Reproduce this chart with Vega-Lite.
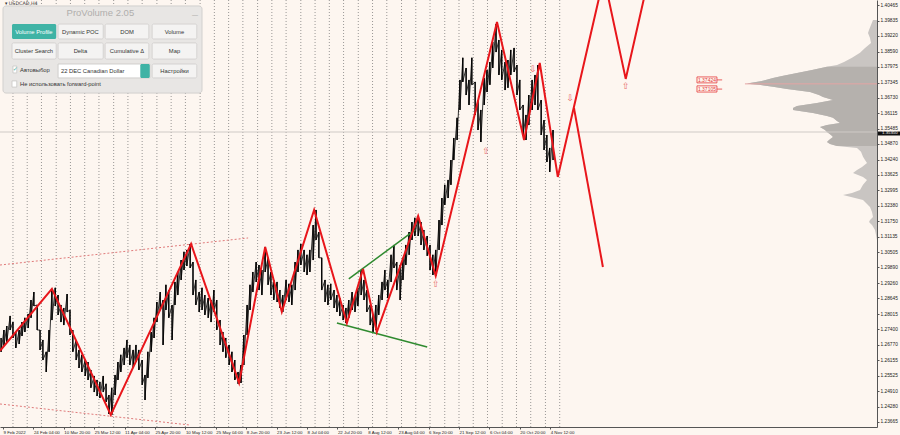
{
"$schema":"https://vega.github.io/schema/vega-lite/v6.json",
"width":877,"height":427,
"autosize":{"type":"none"},
"padding":{"left":0,"top":0,"right":23,"bottom":8},
"background":"#fdf6f0",
"config":{"view":{"stroke":null}},
"resolve":{"scale":{"x":"independent","y":"independent"}},
"layer":[
{"data":{"name":"prof","values":[
{"p":1.3986,"v":4},{"p":1.3966,"v":6},{"p":1.3946,"v":8},{"p":1.3934,"v":9},{"p":1.3914,"v":7},{"p":1.3894,"v":6},{"p":1.3874,"v":12},{"p":1.3854,"v":17},{"p":1.3834,"v":25},{"p":1.3817,"v":33},{"p":1.3805,"v":40},
{"p":1.3798,"v":50,"va":true},{"p":1.3785,"v":65,"va":true},{"p":1.3773,"v":80,"va":true},{"p":1.3761,"v":95,"va":true},{"p":1.3753,"v":104,"va":true},{"p":1.3741,"v":115,"va":true},{"p":1.3733,"v":127,"va":true},{"p":1.3729,"v":130,"va":true},{"p":1.3725,"v":118,"va":true},{"p":1.3717,"v":104,"va":true},{"p":1.3708,"v":90,"va":true},{"p":1.3696,"v":67,"va":true},{"p":1.3684,"v":58,"va":true},{"p":1.3676,"v":54,"va":true},{"p":1.3664,"v":44,"va":true},{"p":1.3652,"v":60,"va":true},{"p":1.364,"v":80,"va":true},{"p":1.3632,"v":84,"va":true},{"p":1.3624,"v":84,"va":true},{"p":1.3612,"v":64,"va":true},{"p":1.36,"v":50,"va":true},{"p":1.3592,"v":44,"va":true},{"p":1.3579,"v":40,"va":true},{"p":1.3571,"v":37,"va":true},{"p":1.3563,"v":50,"va":true},{"p":1.3555,"v":57,"va":true},{"p":1.3543,"v":52,"va":true},{"p":1.3535,"v":50,"va":true},{"p":1.3523,"v":46,"va":true},{"p":1.3515,"v":44,"va":true},{"p":1.3503,"v":48,"va":true},{"p":1.3495,"v":50,"va":true},{"p":1.3487,"v":47,"va":true},{"p":1.3479,"v":40,"va":true},
{"p":1.3471,"v":20},{"p":1.3455,"v":16},{"p":1.3435,"v":14},{"p":1.3422,"v":12},{"p":1.341,"v":10},{"p":1.3394,"v":15},{"p":1.3382,"v":20},{"p":1.337,"v":24},{"p":1.3354,"v":14},{"p":1.3342,"v":10},{"p":1.3322,"v":14},{"p":1.3301,"v":17},{"p":1.3289,"v":25},{"p":1.3281,"v":34},{"p":1.3269,"v":22},{"p":1.3261,"v":14},{"p":1.3245,"v":10},{"p":1.3233,"v":7},{"p":1.3213,"v":5},{"p":1.3193,"v":4},{"p":1.318,"v":7},{"p":1.3172,"v":8},{"p":1.316,"v":5},{"p":1.314,"v":2},{"p":1.31,"v":0}
]},
 "mark":{"type":"area","orient":"horizontal","color":"#c9c5c2"},
 "encoding":{"y":{"field":"p","type":"quantitative","scale":{"domain":[1.23462,1.4067],"nice":false,"zero":false},"axis":null},
 "x":{"field":"v","type":"quantitative","scale":{"domain":[0,877],"reverse":true,"nice":false,"zero":false},"axis":null}}},
{"data":{"name":"prof"},"transform":[{"filter":"datum.va"}],
 "mark":{"type":"area","orient":"horizontal","color":"#b5b1ad"},
 "encoding":{"y":{"field":"p","type":"quantitative","scale":{"domain":[1.23462,1.4067],"nice":false,"zero":false},"axis":null},
 "x":{"field":"v","type":"quantitative","scale":{"domain":[0,877],"reverse":true,"nice":false,"zero":false},"axis":null}}},
{"data":{"values":[{"b":21},{"b":51},{"b":81},{"b":112},{"b":142},{"b":172},{"b":202},{"b":233},{"b":263},{"b":293},{"b":324},{"b":354},{"b":384},{"b":415},{"b":445},{"b":475},{"b":505},{"b":536},{"b":566},{"b":596},{"b":627},{"b":657},{"b":687},{"b":717},{"b":748},{"b":778},{"b":808},{"b":839},{"b":869},{"b":899},{"b":930},{"b":960},{"b":990},{"b":1020},{"b":1051},{"b":1081},{"b":1111},{"b":1142},{"b":1172}]},
 "mark":{"type":"rule","color":"#6e6e6e","strokeWidth":0.7,"strokeDash":[1,2]},
 "encoding":{"x":{"field":"b","type":"quantitative","scale":{"domain":[-6.3,1840],"nice":false,"zero":false},"axis":null},
 "y":{"datum":1.4067,"type":"quantitative","scale":{"domain":[1.23462,1.4067],"nice":false,"zero":false},"axis":null},
 "y2":{"datum":1.23462}}},
{"data":{"values":[{"b":-6.3,"p":1.2999,"g":1},{"b":516,"p":1.3108,"g":1},{"b":-6.3,"p":1.2439,"g":2},{"b":394,"p":1.2354,"g":2}]},
 "mark":{"type":"line","color":"#e07a7a","strokeWidth":1,"strokeDash":[2,2],"clip":true},
 "encoding":{"x":{"field":"b","type":"quantitative","scale":{"domain":[-6.3,1840],"nice":false,"zero":false},"axis":null},
 "y":{"field":"p","type":"quantitative","scale":{"domain":[1.23462,1.4067],"nice":false,"zero":false},"axis":null},
 "detail":{"field":"g"}}},
{"data":{"values":[{"b":-6.3,"b2":1840,"p":1.3535}]},
 "mark":{"type":"rule","color":"#cfcac6","strokeWidth":1},
 "encoding":{"x":{"field":"b","type":"quantitative","scale":{"domain":[-6.3,1840],"nice":false,"zero":false},"axis":null},"x2":{"field":"b2"},
 "y":{"field":"p","type":"quantitative","scale":{"domain":[1.23462,1.4067],"nice":false,"zero":false},"axis":null}}},
{"data":{"values":[{"b":1562,"b2":1840,"p":1.3729}]},
 "mark":{"type":"rule","color":"#e4a4a4","strokeWidth":1},
 "encoding":{"x":{"field":"b","type":"quantitative","scale":{"domain":[-6.3,1840],"nice":false,"zero":false},"axis":null},"x2":{"field":"b2"},
 "y":{"field":"p","type":"quantitative","scale":{"domain":[1.23462,1.4067],"nice":false,"zero":false},"axis":null}}},
{"data":{"name":"bars","values":[
{"b":-4,"hi":1.2705,"lo":1.2649},{"b":2,"hi":1.2737,"lo":1.2673},{"b":8,"hi":1.2753,"lo":1.2689},{"b":15,"hi":1.2794,"lo":1.2737},{"b":21,"hi":1.2769,"lo":1.2705},{"b":27,"hi":1.2729,"lo":1.2665},{"b":34,"hi":1.2737,"lo":1.2681},{"b":40,"hi":1.2769,"lo":1.2713},{"b":46,"hi":1.2786,"lo":1.2729},{"b":53,"hi":1.2802,"lo":1.2745},
{"b":59,"hi":1.2858,"lo":1.2786},{"b":65,"hi":1.289,"lo":1.2834},{"b":72,"hi":1.2838,"lo":1.2737},{"b":78,"hi":1.2737,"lo":1.2657},{"b":84,"hi":1.2697,"lo":1.2616},{"b":91,"hi":1.2649,"lo":1.2568},{"b":97,"hi":1.2737,"lo":1.2649},{"b":103,"hi":1.2898,"lo":1.2777},{"b":110,"hi":1.2907,"lo":1.2834},{"b":116,"hi":1.2878,"lo":1.2798},
{"b":122,"hi":1.2838,"lo":1.2769},{"b":128,"hi":1.2826,"lo":1.2757},{"b":135,"hi":1.2882,"lo":1.281},{"b":141,"hi":1.2818,"lo":1.2717},{"b":147,"hi":1.2737,"lo":1.2649},{"b":154,"hi":1.2697,"lo":1.2616},{"b":160,"hi":1.2657,"lo":1.2584},{"b":166,"hi":1.2637,"lo":1.2568},{"b":173,"hi":1.2616,"lo":1.2552},{"b":179,"hi":1.2608,"lo":1.2536},
{"b":185,"hi":1.2576,"lo":1.2504},{"b":192,"hi":1.2552,"lo":1.2487},{"b":198,"hi":1.2536,"lo":1.2471},{"b":204,"hi":1.2528,"lo":1.2463},{"b":211,"hi":1.2552,"lo":1.2487},{"b":217,"hi":1.252,"lo":1.2447},{"b":223,"hi":1.2475,"lo":1.2399},{"b":229,"hi":1.2504,"lo":1.2395},{"b":236,"hi":1.2556,"lo":1.2475},{"b":242,"hi":1.2608,"lo":1.2536},
{"b":248,"hi":1.2637,"lo":1.2568},{"b":255,"hi":1.2665,"lo":1.2596},{"b":261,"hi":1.2697,"lo":1.2625},{"b":267,"hi":1.2677,"lo":1.2596},{"b":274,"hi":1.2657,"lo":1.2584},{"b":280,"hi":1.2677,"lo":1.2608},{"b":286,"hi":1.2657,"lo":1.2576},{"b":293,"hi":1.2616,"lo":1.2516},{"b":299,"hi":1.2556,"lo":1.2455},{"b":305,"hi":1.2649,"lo":1.2544},
{"b":312,"hi":1.2729,"lo":1.2649},{"b":318,"hi":1.2786,"lo":1.2705},{"b":324,"hi":1.285,"lo":1.2769},{"b":331,"hi":1.289,"lo":1.2818},{"b":337,"hi":1.2858,"lo":1.2677},{"b":343,"hi":1.2919,"lo":1.2818},{"b":349,"hi":1.2898,"lo":1.2786},{"b":356,"hi":1.2838,"lo":1.2697},{"b":362,"hi":1.2931,"lo":1.2838},{"b":368,"hi":1.2971,"lo":1.2878},
{"b":375,"hi":1.3019,"lo":1.2939},{"b":381,"hi":1.3052,"lo":1.2979},{"b":387,"hi":1.306,"lo":1.2995},{"b":394,"hi":1.3084,"lo":1.2987},{"b":400,"hi":1.3011,"lo":1.2878},{"b":406,"hi":1.2939,"lo":1.2838},{"b":413,"hi":1.289,"lo":1.281},{"b":419,"hi":1.2907,"lo":1.2818},{"b":425,"hi":1.2878,"lo":1.2798},{"b":432,"hi":1.2866,"lo":1.2786},
{"b":438,"hi":1.2858,"lo":1.2769},{"b":444,"hi":1.2898,"lo":1.281},{"b":450,"hi":1.2858,"lo":1.2737},{"b":457,"hi":1.2777,"lo":1.2677},{"b":463,"hi":1.2729,"lo":1.2649},{"b":469,"hi":1.2705,"lo":1.2625},{"b":476,"hi":1.2677,"lo":1.2596},{"b":482,"hi":1.2649,"lo":1.2568},{"b":488,"hi":1.2616,"lo":1.2536},{"b":495,"hi":1.2568,"lo":1.252},
{"b":501,"hi":1.2596,"lo":1.2524},{"b":507,"hi":1.2717,"lo":1.2596},{"b":514,"hi":1.2838,"lo":1.2717},{"b":520,"hi":1.2919,"lo":1.2818},{"b":526,"hi":1.2971,"lo":1.289},{"b":533,"hi":1.3011,"lo":1.2931},{"b":539,"hi":1.2999,"lo":1.2898},{"b":545,"hi":1.2979,"lo":1.2878},{"b":552,"hi":1.3072,"lo":1.2971},{"b":558,"hi":1.3028,"lo":1.2919},
{"b":564,"hi":1.2971,"lo":1.2878},{"b":570,"hi":1.2939,"lo":1.2858},{"b":577,"hi":1.2931,"lo":1.285},{"b":583,"hi":1.2898,"lo":1.2826},{"b":589,"hi":1.2878,"lo":1.281},{"b":596,"hi":1.2939,"lo":1.2858},{"b":602,"hi":1.2923,"lo":1.285},{"b":608,"hi":1.2919,"lo":1.2838},{"b":615,"hi":1.3011,"lo":1.2898},{"b":621,"hi":1.306,"lo":1.2971},
{"b":627,"hi":1.3084,"lo":1.2999},{"b":634,"hi":1.306,"lo":1.2971},{"b":640,"hi":1.304,"lo":1.2959},{"b":646,"hi":1.306,"lo":1.2971},{"b":653,"hi":1.316,"lo":1.3019},{"b":659,"hi":1.3221,"lo":1.31},{"b":665,"hi":1.3132,"lo":1.3028},{"b":671,"hi":1.3028,"lo":1.2898},{"b":678,"hi":1.2939,"lo":1.285},{"b":684,"hi":1.2919,"lo":1.2838},
{"b":690,"hi":1.2923,"lo":1.2858},{"b":697,"hi":1.2898,"lo":1.2826},{"b":703,"hi":1.2878,"lo":1.281},{"b":709,"hi":1.2866,"lo":1.2794},{"b":716,"hi":1.2838,"lo":1.2777},{"b":722,"hi":1.2826,"lo":1.2765},{"b":728,"hi":1.2858,"lo":1.2786},{"b":735,"hi":1.289,"lo":1.2818},{"b":741,"hi":1.2874,"lo":1.281},{"b":747,"hi":1.2907,"lo":1.2834},
{"b":754,"hi":1.2979,"lo":1.2878},{"b":760,"hi":1.2939,"lo":1.2858},{"b":766,"hi":1.2898,"lo":1.281},{"b":773,"hi":1.2838,"lo":1.2757},{"b":779,"hi":1.2798,"lo":1.2729},{"b":785,"hi":1.2838,"lo":1.2737},{"b":791,"hi":1.2878,"lo":1.2798},{"b":798,"hi":1.2931,"lo":1.2858},{"b":804,"hi":1.2979,"lo":1.2898},{"b":810,"hi":1.2939,"lo":1.2866},
{"b":817,"hi":1.304,"lo":1.2931},{"b":823,"hi":1.308,"lo":1.2987},{"b":829,"hi":1.3011,"lo":1.2898},{"b":836,"hi":1.2999,"lo":1.2858},{"b":842,"hi":1.3028,"lo":1.2939},{"b":848,"hi":1.308,"lo":1.2999},{"b":855,"hi":1.3132,"lo":1.304},{"b":861,"hi":1.3172,"lo":1.31},{"b":867,"hi":1.3189,"lo":1.3116},{"b":874,"hi":1.3197,"lo":1.3116},
{"b":880,"hi":1.3172,"lo":1.308},{"b":886,"hi":1.314,"lo":1.306},{"b":893,"hi":1.3116,"lo":1.3036},{"b":899,"hi":1.308,"lo":1.2979},{"b":905,"hi":1.304,"lo":1.2959},{"b":911,"hi":1.306,"lo":1.2955},{"b":918,"hi":1.318,"lo":1.306},{"b":924,"hi":1.3269,"lo":1.316},{"b":930,"hi":1.3322,"lo":1.3241},{"b":937,"hi":1.3342,"lo":1.3269},
{"b":943,"hi":1.3422,"lo":1.3322},{"b":949,"hi":1.3511,"lo":1.3422},{"b":956,"hi":1.3592,"lo":1.3503},{"b":962,"hi":1.3745,"lo":1.3624},{"b":968,"hi":1.3834,"lo":1.3737},{"b":975,"hi":1.3793,"lo":1.3684},{"b":981,"hi":1.3745,"lo":1.3644},{"b":987,"hi":1.3834,"lo":1.3725},{"b":994,"hi":1.3737,"lo":1.3604},{"b":1000,"hi":1.3664,"lo":1.3543},
{"b":1006,"hi":1.3624,"lo":1.3495},{"b":1013,"hi":1.3753,"lo":1.3644},{"b":1019,"hi":1.3785,"lo":1.3696},{"b":1025,"hi":1.3817,"lo":1.3725},{"b":1031,"hi":1.3898,"lo":1.3793},{"b":1038,"hi":1.397,"lo":1.3857},{"b":1044,"hi":1.3906,"lo":1.3765},{"b":1050,"hi":1.3866,"lo":1.3745},{"b":1057,"hi":1.3817,"lo":1.3704},{"b":1063,"hi":1.3825,"lo":1.3713},
{"b":1069,"hi":1.3866,"lo":1.3765},{"b":1076,"hi":1.3874,"lo":1.3777},{"b":1082,"hi":1.3805,"lo":1.3684},{"b":1088,"hi":1.3745,"lo":1.3624},{"b":1095,"hi":1.3644,"lo":1.3523},{"b":1101,"hi":1.3604,"lo":1.3503},{"b":1107,"hi":1.3684,"lo":1.3563},{"b":1114,"hi":1.3745,"lo":1.3624},{"b":1120,"hi":1.3765,"lo":1.3644},{"b":1126,"hi":1.3805,"lo":1.3624},
{"b":1133,"hi":1.3664,"lo":1.3523},{"b":1139,"hi":1.3583,"lo":1.3463},{"b":1145,"hi":1.3523,"lo":1.3414},{"b":1151,"hi":1.3471,"lo":1.3374},{"b":1158,"hi":1.3543,"lo":1.3422}
]},
 "mark":{"type":"rule","color":"#000000","strokeWidth":1.3},
 "encoding":{"x":{"field":"b","type":"quantitative","scale":{"domain":[-6.3,1840],"nice":false,"zero":false},
   "axis":{"orient":"bottom","values":[0,64,128,192,256,320,384,448,512,576,640,704,768,832,896,960,1024,1088,1152],
   "labelExpr":"['9 Feb 2022','24 Feb 04:00','10 Mar 20:00','25 Mar 12:00','11 Apr 04:00','25 Apr 20:00','10 May 12:00','25 May 04:00','8 Jun 20:00','23 Jun 12:00','8 Jul 04:00','22 Jul 20:00','8 Aug 12:00','23 Aug 04:00','6 Sep 20:00','21 Sep 12:00','6 Oct 04:00','20 Oct 20:00','4 Nov 12:00'][round(datum.value/64)]",
   "labelAlign":"left","labelBaseline":"top","labelPadding":1,"tickSize":2,"labelFontSize":4.4,"labelFont":"Liberation Sans","labelColor":"#222222","domainColor":"#555555","tickColor":"#555555","labelOverlap":false,"labelFlush":false,"grid":false,"title":null}},
 "y":{"field":"hi","type":"quantitative","scale":{"domain":[1.23462,1.4067],"nice":false,"zero":false},
   "axis":{"orient":"right","values":[1.40465,1.39835,1.3922,1.3859,1.37975,1.37345,1.3673,1.36115,1.35485,1.3487,1.3424,1.33625,1.32995,1.3238,1.3175,1.31135,1.30505,1.2989,1.2926,1.28645,1.28015,1.274,1.2677,1.26155,1.25525,1.2491,1.2428,1.23665],
   "format":".5f","labelFontSize":4.8,"labelFont":"Liberation Sans","labelPadding":1,"tickSize":2,"labelColor":"#222222","domainColor":"#555555","tickColor":"#555555","labelOverlap":false,"labelFlush":false,"grid":false,"title":null}},
 "y2":{"field":"lo"}}},
{"data":{"name":"bars"},
 "transform":[{"fold":["hi","lo"],"as":["k","val"]}],
 "mark":{"type":"line","color":"#000000","strokeWidth":0.8},
 "encoding":{"x":{"field":"b","type":"quantitative","scale":{"domain":[-6.3,1840],"nice":false,"zero":false},"axis":null},
 "y":{"field":"val","type":"quantitative","scale":{"domain":[1.23462,1.4067],"nice":false,"zero":false},"axis":null},
 "order":[{"field":"b","type":"quantitative"},{"field":"k","type":"nominal"}]}},
{"data":{"values":[{"b":728,"p":1.2943,"g":1},{"b":867,"p":1.314,"g":1},{"b":703,"p":1.2765,"g":2},{"b":893,"p":1.2669,"g":2}]},
 "mark":{"type":"line","color":"#2f8a2f","strokeWidth":1.5},
 "encoding":{"x":{"field":"b","type":"quantitative","scale":{"domain":[-6.3,1840],"nice":false,"zero":false},"axis":null},
 "y":{"field":"p","type":"quantitative","scale":{"domain":[1.23462,1.4067],"nice":false,"zero":false},"axis":null},
 "detail":{"field":"g"}}},
{"data":{"values":[{"b":-6.3,"p":1.2653,"g":1},{"b":103,"p":1.2903,"g":1},{"b":227,"p":1.2395,"g":1},{"b":396,"p":1.3084,"g":1},{"b":497,"p":1.2524,"g":1},{"b":552,"p":1.3072,"g":1},{"b":587,"p":1.281,"g":1},{"b":655,"p":1.3221,"g":1},{"b":724,"p":1.2765,"g":1},{"b":758,"p":1.2983,"g":1},{"b":787,"p":1.2729,"g":1},{"b":874,"p":1.3197,"g":1},{"b":911,"p":1.2955,"g":1},{"b":1040,"p":1.3978,"g":1},{"b":1097,"p":1.3503,"g":1},{"b":1130,"p":1.3813,"g":1},{"b":1168,"p":1.3354,"g":1},{"b":1265,"p":1.416,"g":1},{"b":1311,"p":1.3749,"g":1},{"b":1362,"p":1.418,"g":1},{"b":1202,"p":1.3632,"g":2},{"b":1263,"p":1.2991,"g":2}]},
 "mark":{"type":"line","color":"#e8161b","strokeWidth":2,"clip":true},
 "encoding":{"x":{"field":"b","type":"quantitative","scale":{"domain":[-6.3,1840],"nice":false,"zero":false},"axis":null},
 "y":{"field":"p","type":"quantitative","scale":{"domain":[1.23462,1.4067],"nice":false,"zero":false},"axis":null},
 "detail":{"field":"g"}}},
{"data":{"values":[{"b":911,"p":1.2923,"s":"⇧"},{"b":1017,"p":1.3459,"s":"⇧"},{"b":1116,"p":1.3789,"s":"⇩"},{"b":1194,"p":1.3672,"s":"⇩"},{"b":1311,"p":1.372,"s":"⇧"}]},
 "mark":{"type":"text","color":"#e86a6a","fontSize":9,"font":"DejaVu Sans"},
 "encoding":{"x":{"field":"b","type":"quantitative","scale":{"domain":[-6.3,1840],"nice":false,"zero":false},"axis":null},
 "y":{"field":"p","type":"quantitative","scale":{"domain":[1.23462,1.4067],"nice":false,"zero":false},"axis":null},
 "text":{"field":"s"}}},
{"data":{"values":[{"b":1461,"b2":1503,"p":1.3757,"p2":1.3733},{"b":1461,"b2":1503,"p":1.3721,"p2":1.3696}]},
 "mark":{"type":"rect","fill":"#fdf6f0","stroke":"#e43a3a","strokeWidth":0.8},
 "encoding":{"x":{"field":"b","type":"quantitative","scale":{"domain":[-6.3,1840],"nice":false,"zero":false},"axis":null},"x2":{"field":"b2"},
 "y":{"field":"p","type":"quantitative","scale":{"domain":[1.23462,1.4067],"nice":false,"zero":false},"axis":null},"y2":{"field":"p2"}}},
{"data":{"values":[{"b":1482,"p":1.3745,"t":"1.37424"},{"b":1482,"p":1.3708,"t":"1.37105"}]},
 "mark":{"type":"text","color":"#e43a3a","fontSize":5,"font":"Liberation Sans"},
 "encoding":{"x":{"field":"b","type":"quantitative","scale":{"domain":[-6.3,1840],"nice":false,"zero":false},"axis":null},
 "y":{"field":"p","type":"quantitative","scale":{"domain":[1.23462,1.4067],"nice":false,"zero":false},"axis":null},
 "text":{"field":"t"}}},
{"data":{"values":[{"b":1503,"b2":1514,"p":1.3745},{"b":1503,"b2":1514,"p":1.3708}]},
 "mark":{"type":"rule","color":"#e43a3a","strokeWidth":0.8},
 "encoding":{"x":{"field":"b","type":"quantitative","scale":{"domain":[-6.3,1840],"nice":false,"zero":false},"axis":null},"x2":{"field":"b2"},
 "y":{"field":"p","type":"quantitative","scale":{"domain":[1.23462,1.4067],"nice":false,"zero":false},"axis":null}}},
{"data":{"values":[{"b":1842,"b2":1893,"p":1.3537,"p2":1.3521}]},
 "mark":{"type":"rect","fill":"#111111"},
 "encoding":{"x":{"field":"b","type":"quantitative","scale":{"domain":[-6.3,1840],"nice":false,"zero":false},"axis":null},"x2":{"field":"b2"},
 "y":{"field":"p","type":"quantitative","scale":{"domain":[1.23462,1.4067],"nice":false,"zero":false},"axis":null},"y2":{"field":"p2"}}},
{"data":{"values":[{"b":1867,"p":1.3529,"t":"1.35350"}]},
 "mark":{"type":"text","color":"#ffffff","fontSize":4.3,"font":"Liberation Sans"},
 "encoding":{"x":{"field":"b","type":"quantitative","scale":{"domain":[-6.3,1840],"nice":false,"zero":false},"axis":null},
 "y":{"field":"p","type":"quantitative","scale":{"domain":[1.23462,1.4067],"nice":false,"zero":false},"axis":null},
 "text":{"field":"t"}}},
{"data":{"values":[{"b":0,"b2":419,"p":1.4043,"p2":1.3692}]},
 "mark":{"type":"rect","fill":"#e8e6e4","stroke":"#d2d0ce","strokeWidth":1,"cornerRadius":3},
 "encoding":{"x":{"field":"b","type":"quantitative","scale":{"domain":[-6.3,1840],"nice":false,"zero":false},"axis":null},"x2":{"field":"b2"},
 "y":{"field":"p","type":"quantitative","scale":{"domain":[1.23462,1.4067],"nice":false,"zero":false},"axis":null},"y2":{"field":"p2"}}},
{"data":{"values":[{"b":116,"b2":211,"p":1.397,"p2":1.391},{"b":215,"b2":307,"p":1.397,"p2":1.391},{"b":314,"b2":408,"p":1.397,"p2":1.391},{"b":19,"b2":112,"p":1.3894,"p2":1.3829},{"b":116,"b2":211,"p":1.3894,"p2":1.3829},{"b":215,"b2":307,"p":1.3894,"p2":1.3829},{"b":314,"b2":408,"p":1.3894,"p2":1.3829},{"b":314,"b2":408,"p":1.3809,"p2":1.3753}]},
 "mark":{"type":"rect","fill":"#f4f3f2","stroke":"#cfcdcb","strokeWidth":0.8,"cornerRadius":1.5},
 "encoding":{"x":{"field":"b","type":"quantitative","scale":{"domain":[-6.3,1840],"nice":false,"zero":false},"axis":null},"x2":{"field":"b2"},
 "y":{"field":"p","type":"quantitative","scale":{"domain":[1.23462,1.4067],"nice":false,"zero":false},"axis":null},"y2":{"field":"p2"}}},
{"data":{"values":[{"b":116,"b2":309,"p":1.3809,"p2":1.3753},{"b":21,"b2":29,"p":1.3801,"p2":1.3773},{"b":19,"b2":29,"p":1.3741,"p2":1.3716}]},
 "mark":{"type":"rect","fill":"#ffffff","stroke":"#c8c6c4","strokeWidth":0.8},
 "encoding":{"x":{"field":"b","type":"quantitative","scale":{"domain":[-6.3,1840],"nice":false,"zero":false},"axis":null},"x2":{"field":"b2"},
 "y":{"field":"p","type":"quantitative","scale":{"domain":[1.23462,1.4067],"nice":false,"zero":false},"axis":null},"y2":{"field":"p2"}}},
{"data":{"values":[{"b":19,"b2":112,"p":1.397,"p2":1.391},{"b":289,"b2":309,"p":1.3809,"p2":1.3753}]},
 "mark":{"type":"rect","fill":"#3fb3a5","cornerRadius":1.5},
 "encoding":{"x":{"field":"b","type":"quantitative","scale":{"domain":[-6.3,1840],"nice":false,"zero":false},"axis":null},"x2":{"field":"b2"},
 "y":{"field":"p","type":"quantitative","scale":{"domain":[1.23462,1.4067],"nice":false,"zero":false},"axis":null},"y2":{"field":"p2"}}},
{"data":{"values":[{"b":205,"p":1.4013,"t":"ProVolume 2.05"}]},
 "mark":{"type":"text","color":"#b0aeac","fontSize":9.5,"font":"Liberation Sans"},
 "encoding":{"x":{"field":"b","type":"quantitative","scale":{"domain":[-6.3,1840],"nice":false,"zero":false},"axis":null},
 "y":{"field":"p","type":"quantitative","scale":{"domain":[1.23462,1.4067],"nice":false,"zero":false},"axis":null},
 "text":{"field":"t"}}},
{"data":{"values":[{"b":404,"p":1.4005,"t":"—"}]},
 "mark":{"type":"text","color":"#9a9896","fontSize":6,"font":"Liberation Sans"},
 "encoding":{"x":{"field":"b","type":"quantitative","scale":{"domain":[-6.3,1840],"nice":false,"zero":false},"axis":null},
 "y":{"field":"p","type":"quantitative","scale":{"domain":[1.23462,1.4067],"nice":false,"zero":false},"axis":null},
 "text":{"field":"t"}}},
{"data":{"values":[{"b":163,"p":1.3938,"t":"Dynamic POC"},{"b":261,"p":1.3938,"t":"DOM"},{"b":361,"p":1.3938,"t":"Volume"},{"b":65,"p":1.3861,"t":"Cluster Search"},{"b":163,"p":1.3861,"t":"Delta"},{"b":261,"p":1.3861,"t":"Cumulative Δ"},{"b":361,"p":1.3861,"t":"Map"},{"b":361,"p":1.3781,"t":"Настройки"}]},
 "mark":{"type":"text","color":"#333333","fontSize":5.8,"font":"Liberation Sans"},
 "encoding":{"x":{"field":"b","type":"quantitative","scale":{"domain":[-6.3,1840],"nice":false,"zero":false},"axis":null},
 "y":{"field":"p","type":"quantitative","scale":{"domain":[1.23462,1.4067],"nice":false,"zero":false},"axis":null},
 "text":{"field":"t"}}},
{"data":{"values":[{"b":65,"p":1.3938,"t":"Volume Profile"}]},
 "mark":{"type":"text","color":"#ffffff","fontSize":5.8,"font":"Liberation Sans"},
 "encoding":{"x":{"field":"b","type":"quantitative","scale":{"domain":[-6.3,1840],"nice":false,"zero":false},"axis":null},
 "y":{"field":"p","type":"quantitative","scale":{"domain":[1.23462,1.4067],"nice":false,"zero":false},"axis":null},
 "text":{"field":"t"}}},
{"data":{"values":[{"b":36,"p":1.3785,"t":"Автовыбор"},{"b":122,"p":1.3781,"t":"22 DEC Canadian Dollar"},{"b":36,"p":1.3729,"t":"Не использовать forward-point"}]},
 "mark":{"type":"text","color":"#333333","fontSize":5.8,"font":"Liberation Sans","align":"left"},
 "encoding":{"x":{"field":"b","type":"quantitative","scale":{"domain":[-6.3,1840],"nice":false,"zero":false},"axis":null},
 "y":{"field":"p","type":"quantitative","scale":{"domain":[1.23462,1.4067],"nice":false,"zero":false},"axis":null},
 "text":{"field":"t"}}},
{"data":{"values":[{"b":26,"p":1.379,"t":"✓"},{"b":299,"p":1.3781,"t":"⇕"}]},
 "mark":{"type":"text","color":"#3fb3a5","fontSize":6,"font":"DejaVu Sans"},
 "encoding":{"x":{"field":"b","type":"quantitative","scale":{"domain":[-6.3,1840],"nice":false,"zero":false},"axis":null},
 "y":{"field":"p","type":"quantitative","scale":{"domain":[1.23462,1.4067],"nice":false,"zero":false},"axis":null},
 "text":{"field":"t"}}},
{"data":{"values":[{"b":4,"p":1.4051,"t":"▾ USDCAD,H4"}]},
 "mark":{"type":"text","color":"#333333","fontSize":4.8,"font":"DejaVu Sans","align":"left"},
 "encoding":{"x":{"field":"b","type":"quantitative","scale":{"domain":[-6.3,1840],"nice":false,"zero":false},"axis":null},
 "y":{"field":"p","type":"quantitative","scale":{"domain":[1.23462,1.4067],"nice":false,"zero":false},"axis":null},
 "text":{"field":"t"}}}
]
}
